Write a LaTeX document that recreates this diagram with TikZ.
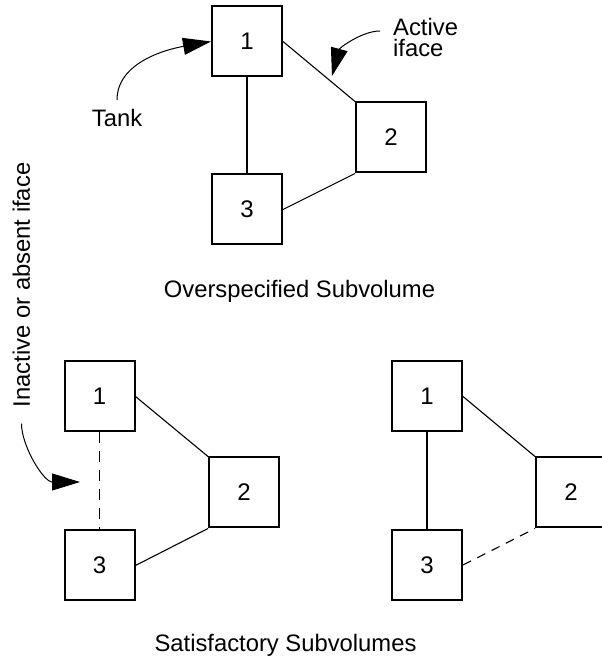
\documentclass[tikz,border=0pt]{standalone}
\usepackage{fontspec}
\setmainfont{Liberation Sans}
\usetikzlibrary{arrows.meta}
\begin{document}
\begin{tikzpicture}[x=1pt,y=1pt,
        cell/.style={draw, line width=2pt, minimum size=70pt, inner sep=0pt, font=\fontsize{24}{24}\selectfont},
        txt/.style={inner sep=2pt, font=\fontsize{23.8}{21}\selectfont},
        link/.style={line width=1.1pt},
        thick link/.style={line width=1.9pt},
        pointer/.style={line width=1pt, -{Triangle[length=28pt,width=17pt]}}]
            \useasboundingbox (0,0) rectangle (602,659);

            \node[cell] (o1) at (247,617.5) {1};
            \node[cell] (o2) at (391,521.5) {2};
            \node[cell] (o3) at (247,449.5) {3};
            \draw[thick link] (o1) -- (o3);
            \draw[link] (o1.east) -- (o2.north west);
            \draw[link] (o3.east) -- (o2.south west);

            \node[txt] (tank) at (117,541) {Tank};
            \node[txt, anchor=west, align=left] (active) at (391,622) {Active\\iface};
            \coordinate (hit) at (332,583);
            \draw[pointer, shorten <=7pt] (tank.north) to[out=90,in=190] (o1.west);
            \draw[pointer, shorten <=11pt] ([yshift=6pt]active.west) to[out=180,in=75] (hit);

            \node[txt, anchor=base] (over) at (299.5,361) {Overspecified Subvolume};

            \node[cell] (l1) at (99.5,262.5) {1};
            \node[cell] (l2) at (244,166.5) {2};
            \node[cell] (l3) at (99.5,93.5) {3};
            \draw[thick link, dash pattern=on 11pt off 8pt] (l1) -- (l3);
            \draw[link] (l1.east) -- (l2.north west);
            \draw[link] (l3.east) -- (l2.south west);

            \node[txt, anchor=base, rotate=90] (inact) at (30,374) {Inactive or absent iface};
            \coordinate (gap) at (80,177);
            \draw[pointer, shorten <=14pt] (inact.west) to[out=-90,in=180] (gap);

            \node[cell] (r1) at (427,262.5) {1};
            \node[cell] (r2) at (571,166.5) {2};
            \node[cell] (r3) at (427,94) {3};
            \draw[thick link] (r1) -- (r3);
            \draw[link] (r1.east) -- (r2.north west);
            \draw[link, dash pattern=on 9pt off 7pt] (r3.east) -- (r2.south west);

            \node[txt, anchor=base] (satis) at (285.5,7) {Satisfactory Subvolumes};
\end{tikzpicture}
\end{document}
